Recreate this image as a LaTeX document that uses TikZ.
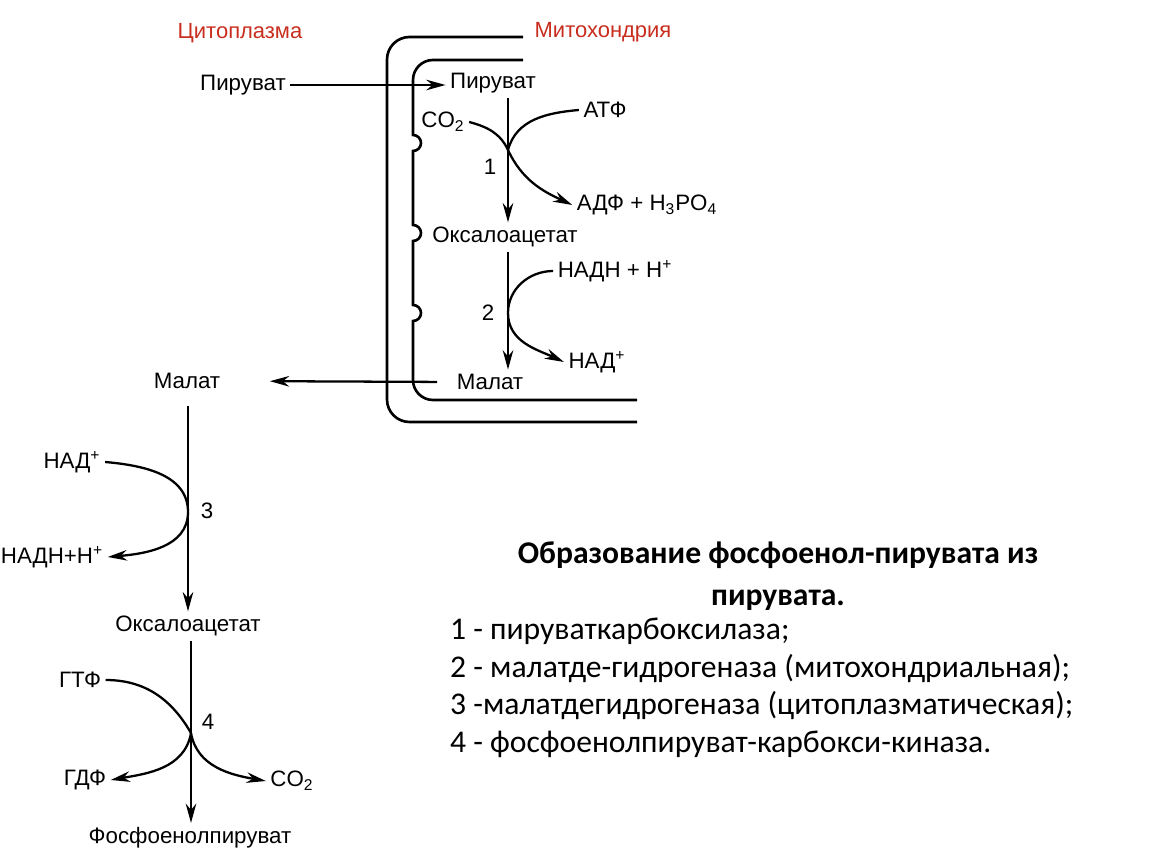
\documentclass[tikz,border=0pt]{standalone}
\usepackage{fontspec}
\setmainfont{Liberation Sans}
\newfontfamily\captionfont{Carlito}
\usetikzlibrary{positioning}
\usetikzlibrary{arrows.meta}

\definecolor{zonered}{RGB}{200,45,30}

\begin{document}
\begin{tikzpicture}[x=0.02cm, y=0.02cm, line width=1.3pt,
    chem/.style={inner sep=2pt, font=\fontsize{12.7}{15}\selectfont},
    zone/.style={inner sep=0pt, text=zonered, font=\fontsize{12.5}{15}\selectfont},
    enz/.style={inner sep=0pt, font=\fontsize{12.7}{15}\selectfont},
    flow/.style={-{Stealth[length=11pt,width=6pt]}},
    membrane/.style={line width=1.5pt}]
			\useasboundingbox (0,0) rectangle (1150,-864);
			% Compartments
			\node[zone] (cyto) at (240,-33) {Цитоплазма};
			\node[zone] (mito) at (603,-32) {Митохондрия};
			\draw[membrane, rounded corners=0.45cm] (523,-37) -- (387,-37) -- (387,-422) -- (637,-422);
			\draw[membrane] (523,-60) -- (433,-60) arc[start angle=90, end angle=180, radius=0.4cm]
				-- (413,-135) arc[start angle=90, end angle=-90, radius=0.16cm]
				-- (413,-225) arc[start angle=90, end angle=-90, radius=0.16cm]
				-- (413,-305) arc[start angle=90, end angle=-90, radius=0.16cm]
				-- (413,-380) arc[start angle=180, end angle=270, radius=0.4cm] -- (637,-400);
			% Nodes
			\node[chem] (pyrL) at (243,-85) {Пируват};
			\node[chem] (pyrR) at (493,-83) {Пируват};
			\node[chem] (co2a) at (443,-122) {CO\textsubscript{2}};
			\node[chem] (atp) at (605,-110) {АТФ};
			\node[chem] (adp) at (647,-205) {АДФ + H\textsubscript{3}PO\textsubscript{4}};
			\node[chem] (oaaM) at (505,-237) {Оксалоацетат};
			\node[chem] (nadh2) at (615,-271) {НАДН + Н\textsuperscript{+}};
			\node[chem] (nad2) at (597,-362) {НАД\textsuperscript{+}};
			\node[chem] (malM) at (490,-382) {Малат};
			\node[chem] (malC) at (187,-381) {Малат};
			\node[chem] (nad3) at (72,-462) {НАД\textsuperscript{+}};
			\node[chem] (nadh3) at (52,-557) {НАДН+Н\textsuperscript{+}};
			\node[chem] (oaaC) at (188,-626) {Оксалоацетат};
			\node[chem] (gtp) at (80,-680) {ГТФ};
			\node[chem] (gdp) at (85,-780) {ГДФ};
			\node[chem] (co2b) at (292,-781) {CO\textsubscript{2}};
			\node[chem] (pep) at (190,-838) {Фосфоенолпируват};
			\node[enz] (e1) at (490,-167) {1};
			\node[enz] (e2) at (488,-313) {2};
			\node[enz] (e3) at (207,-511) {3};
			\node[enz] (e4) at (208,-722) {4};
			\coordinate (j1) at (508,-150);
			\coordinate (j2) at (508,-313);
			\coordinate (j3) at (188,-512);
			\coordinate (j4) at (191,-733);
			% Arrows
			\draw[flow] (pyrL.east) -- (pyrR.west |- pyrL.east);
			\draw[flow] (pyrR.south -| j1) -- (oaaM.north -| j1);
			\draw[flow] (co2a.east) to[out=-15, in=115] (j1) to[out=-65, in=155] (adp.west);
			\draw (atp.west) to[out=185, in=75] (j1);
			\draw[flow] (oaaM.south -| j2) -- (malM.north -| j2);
			\draw[flow] (nadh2.west) to[out=180, in=90] (j2) to[out=-90, in=155] (nad2.west);
			\draw[flow, shorten <=0.3cm, shorten >=0.9cm] (malM.west) -- (malC.east);
			\draw[flow, shorten <=0.25cm] (malC.south -| j3) -- (oaaC.north -| j3);
			\draw[flow] (nad3.east) to[out=-5, in=90] (j3) to[out=-90, in=5] (nadh3.east);
			\draw[flow] (oaaC.south -| j4) -- (pep.north -| j4);
			\draw (gtp.east) to[out=0, in=120] (j4);
			\draw[flow] (j4) to[out=-100, in=10] (gdp.east);
			\draw[flow] (j4) to[out=-80, in=170] (co2b.west);
			% Caption
			\node[inner sep=0pt, align=center, font=\captionfont\bfseries\fontsize{18}{24}\selectfont] (title) at (778,-576) {Образование фосфоенол-пирувата из\\пирувата.};
			\node[inner sep=0pt, anchor=west, align=left, font=\captionfont\fontsize{18}{21.4}\selectfont] (legend) at (449,-688) {1 - пируваткарбоксилаза;\\2 - малатде-гидрогеназа (митохондриальная);\\3 -малатдегидрогеназа (цитоплазматическая);\\4 - фосфоенолпируват-карбокси-киназа.};
		\end{tikzpicture}
\end{document}
